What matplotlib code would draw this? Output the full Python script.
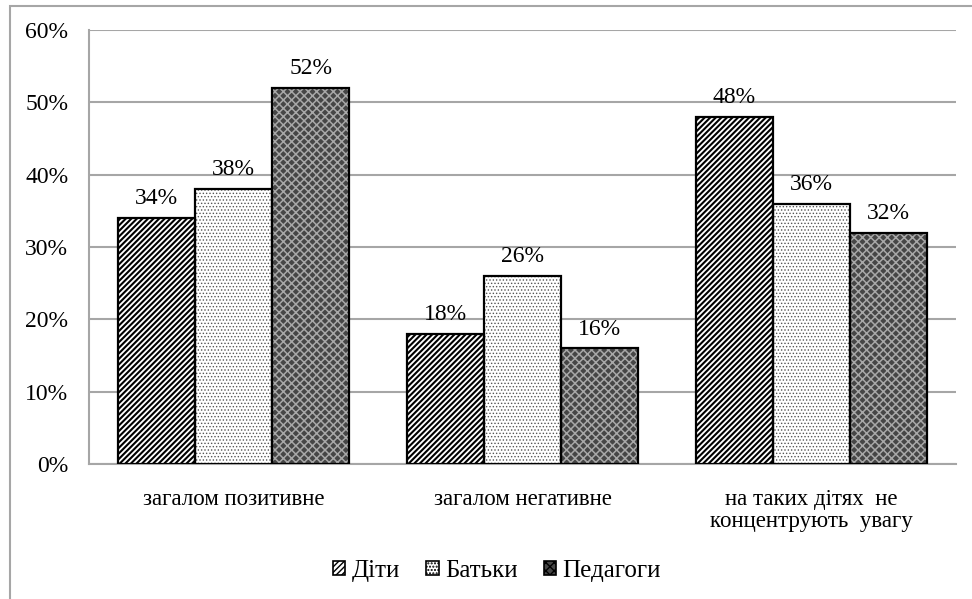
import matplotlib
matplotlib.use("Agg")
import matplotlib.pyplot as plt
import numpy as np
from matplotlib.patches import Rectangle, Patch

categories = ["загалом позитивне", "загалом негативне", "на таких дітях  не\nконцентрують  увагу"]
series_names = ["Діти", "Батьки", "Педагоги"]
children = [34, 18, 48]
parents = [38, 26, 36]
teachers = [52, 16, 32]
yticks = [0, 10, 20, 30, 40, 50, 60]

plt.rcParams['font.family'] = ['Liberation Serif', 'DejaVu Serif']

fig = plt.figure(figsize=(9.72, 5.99), dpi=100)
ax = fig.add_axes([89/972, 1-464/599, (956-89)/972, (464-30)/599])

# outer border
fig.patches.append(Rectangle((9.5/972, -0.1), 1.2, 1.1 - 6.5/599, transform=fig.transFigure,
                             fill=False, edgecolor='#a6a6a6', linewidth=1.5))

x = np.arange(len(categories))
w = 0.267
styles = [
    dict(face='white', hatch='//////', hcolor='black', hlw=1.5),
    dict(face='white', hatch='.....', hcolor='#555555', hlw=0.6),
    dict(face='#464646', hatch='xxxx', hcolor='#a8a8a8', hlw=1.1),
]
data = [children, parents, teachers]
for i, (vals, st) in enumerate(zip(data, styles)):
    pos = x + (i - 1) * w
    with plt.rc_context({'hatch.linewidth': st['hlw']}):
        bars = ax.bar(pos, vals, w, color=st['face'], hatch=st['hatch'], edgecolor=st['hcolor'],
                      linewidth=0, zorder=3)
        for b in bars:
            if hasattr(b, 'set_hatch_linewidth'):
                b.set_hatch_linewidth(st['hlw'])
    ax.bar(pos, vals, w, fill=False, edgecolor='black', linewidth=1.6, zorder=4)
    for p, v in zip(pos, vals):
        ax.text(p, v + 1.2, f"{v}%", ha='center', va='bottom', fontsize=17, zorder=5)

ax.set_ylim(0, 60)
ax.set_xlim(-0.5, 2.5)
ax.set_yticks(yticks)
ax.set_yticklabels([f"{t}%" for t in yticks], fontsize=17)
ax.set_xticks(x)
ax.set_xticklabels(categories, fontsize=16.5, linespacing=1.05)
ax.tick_params(axis='y', length=0, pad=15)
ax.tick_params(axis='x', length=0, pad=18)
ax.yaxis.grid(True, color='#a6a6a6', linewidth=1.5, zorder=0)
ax.set_axisbelow(True)
for s in ['top', 'right']:
    ax.spines[s].set_visible(False)
for s in ['left', 'bottom']:
    ax.spines[s].set_color('#a6a6a6')
    ax.spines[s].set_linewidth(1.5)

handles = []
for st in styles:
    with plt.rc_context({'hatch.linewidth': st['hlw']}):
        h = Patch(facecolor=st['face'], hatch=st['hatch'], edgecolor='black', linewidth=1.2)
    handles.append(h)
fig.legend(handles, series_names, loc='center', bbox_to_anchor=(497/972, 1-571/599),
           ncol=3, frameon=False, fontsize=18, handlelength=0.5, handleheight=0.5,
           handletextpad=0.25, columnspacing=1.05)

fig.savefig("out.png", dpi=100)
